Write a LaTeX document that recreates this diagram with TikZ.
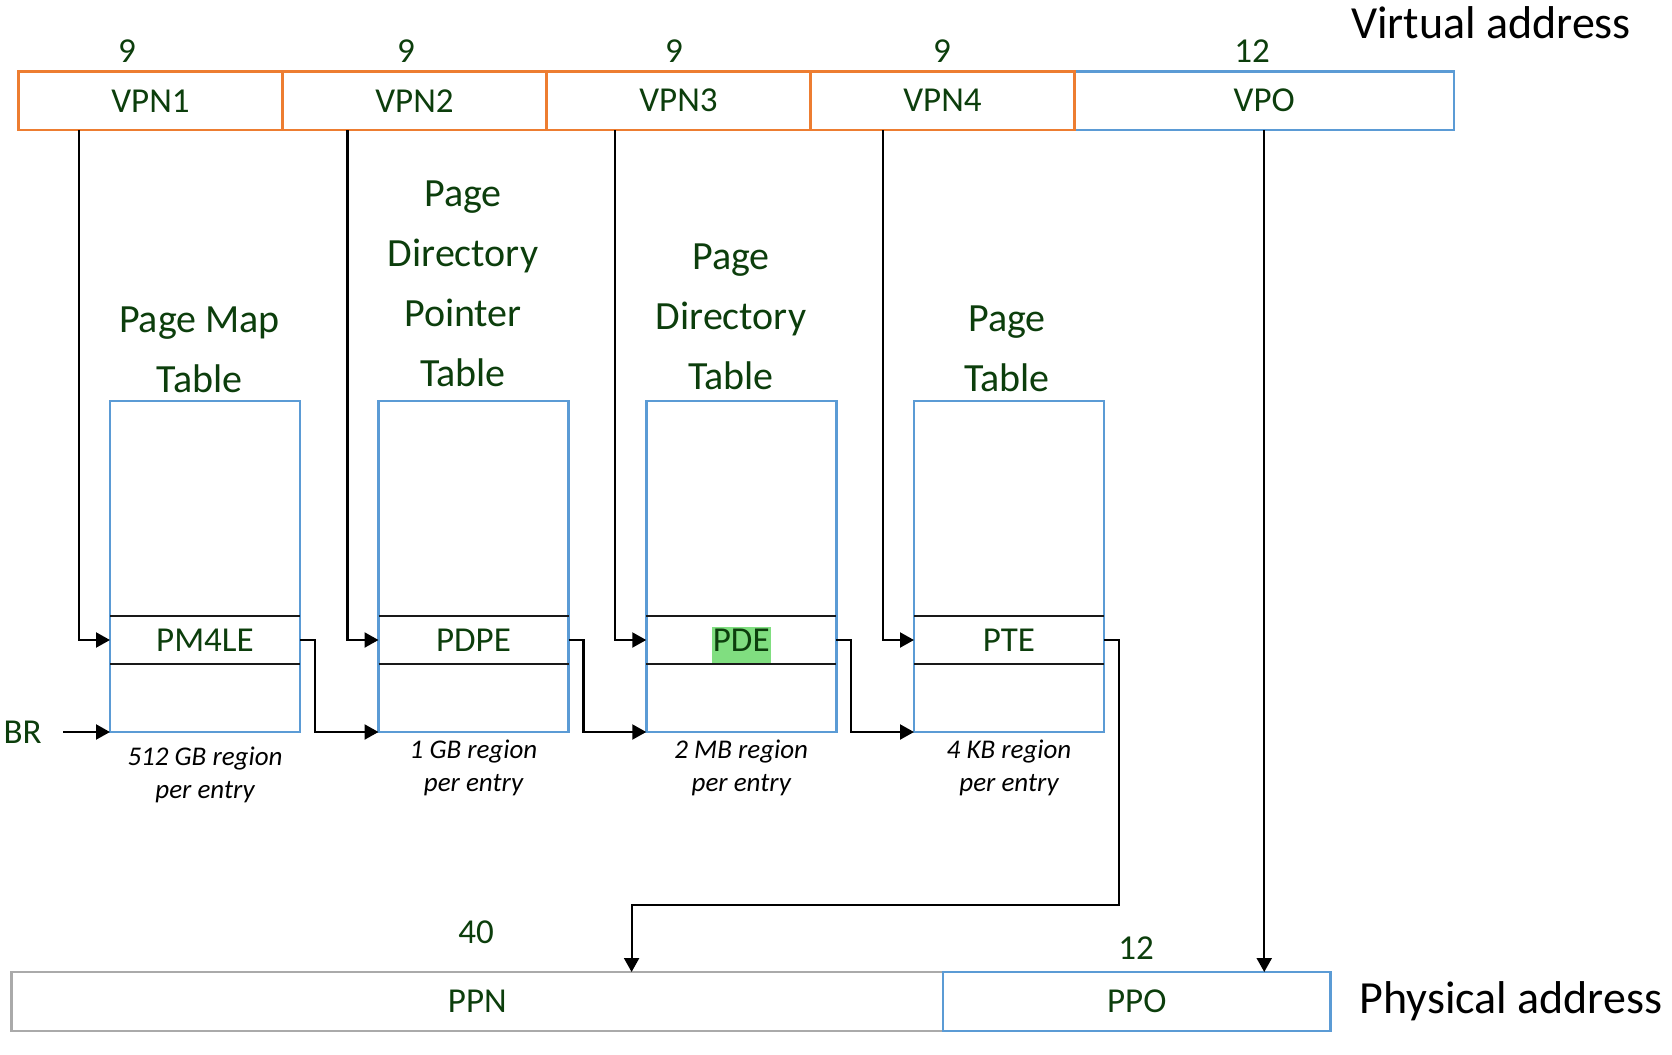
\documentclass[tikz,border=0pt]{standalone}
\usepackage{fontspec}
\setmainfont{Carlito}
\usetikzlibrary{positioning,arrows.meta,calc,backgrounds}

\definecolor{darkgreen}{RGB}{12,62,12}
\definecolor{vpnorange}{RGB}{237,125,49}
\definecolor{boxblue}{RGB}{91,155,213}
\definecolor{ppngray}{RGB}{170,170,170}
\definecolor{hilite}{RGB}{128,222,128}

\tikzset{
  field/.style={draw, line width=1.3pt, minimum height=29.25pt, inner sep=0pt, outer sep=0pt, text=darkgreen, font=\fontsize{17.5}{21}\selectfont},
  vpnfield/.style={field, draw=vpnorange, minimum width=132pt},
  bits/.style={inner sep=0pt, text=darkgreen, font=\fontsize{17.5}{21}\selectfont},
  tablebox/.style={draw=boxblue, line width=1.3pt, minimum width=95pt, minimum height=165.5pt, inner sep=0pt, outer sep=0pt},
  entry/.style={minimum width=95pt, minimum height=24pt, inner sep=0pt, outer sep=0pt, text=darkgreen, font=\fontsize{17.5}{21}\selectfont},
  rowline/.style={line width=1.4pt, black!90},
  tabletitle/.style={align=center, inner sep=0pt, anchor=south, text=darkgreen, font=\fontsize{20}{30}\selectfont},
  regionnote/.style={align=center, inner sep=0pt, anchor=north, font=\itshape\fontsize{13.5}{16.5}\selectfont},
  addrname/.style={inner sep=0pt, anchor=base, font=\fontsize{23}{28}\selectfont},
  link/.style={line width=1.1pt, -{Triangle[length=7pt,width=7.5pt]}},
}

\begin{document}
\begin{tikzpicture}[x=0.5pt, y=-0.5pt]
\useasboundingbox (0,0) rectangle (1672,1055);

% virtual address
\node[field, draw=boxblue, minimum width=189.75pt] (vpo) at (1264.25,100.75) {VPO};
\node[vpnfield, left=0pt of vpo] (vpn4) {VPN4};
\node[vpnfield, left=0pt of vpn4] (vpn3) {VPN3};
\node[vpnfield, left=0pt of vpn3] (vpn2) {VPN2};
\node[vpnfield, left=0pt of vpn2] (vpn1) {VPN1};
\foreach \n/\x/\b in {1/127/9, 2/406/9, 3/674/9, 4/942/9, 5/1252/12}
  \node[bits] (bits\n) at (\x,51) {\b};
\node[addrname] (vaddr) at (1491,38) {Virtual address};

% the four tables
\foreach \n/\x/\e in {pml4/205/PM4LE, pdpt/473.5/PDPE, pd/741.25/PDE, pt/1009/PTE} {
  \node[tablebox] (\n) at (\x,566.5) {};
  \node[entry] (\n-ent) at (\x,640) {\e};
  \draw[rowline] (\n-ent.north west) -- (\n-ent.north east) (\n-ent.south west) -- (\n-ent.south east);
}
\begin{scope}[on background layer]
  \fill[hilite] ($(pd-ent.center)+(-29.5,-13)$) rectangle ($(pd-ent.center)+(29.5,23)$);
\end{scope}

\node[tabletitle] (pml4title) at (199.5,393) {Page Map\\Table};
\node[tabletitle] (pdpttitle) at (463,387.5) {Page\\Directory\\Pointer\\Table};
\node[tabletitle] (pdtitle) at (731,390) {Page\\Directory\\Table};
\node[tabletitle] (pttitle) at (1007,392.5) {Page\\Table};

\node[regionnote, below=7.3pt of pml4.south] (pml4note) {512 GB region\\per entry};
\node[regionnote, below=4pt of pdpt.south] (pdptnote) {1 GB region\\per entry};
\node[regionnote, below=4pt of pd.south] (pdnote) {2 MB region\\per entry};
\node[regionnote, below=4pt of pt.south] (ptnote) {4 KB region\\per entry};

% walk
\foreach \v/\n in {vpn1/pml4, vpn2/pdpt, vpn3/pd, vpn4/pt} {
  \coordinate (\n-in) at ($(\n-ent.west)+(-31,0)$);
  \draw[link] (\v.south -| \n-in) |- (\n-ent.west);
}
\foreach \a/\b in {pml4/pdpt, pdpt/pd, pd/pt}
  \draw[link] (\a-ent.east) -- ++(15,0) |- (\b.south west);

\coordinate (brout) at ($(pml4.south west)+(-47,0)$);
\node[bits, left=10.5pt of brout] (br) {BR};
\draw[link] (brout) -- (pml4.south west);

% physical address
\node[field, draw=ppngray, minimum width=465.65pt, minimum height=29.5pt] (ppn) at (477.35,1001.5) {PPN};
\node[field, draw=boxblue, minimum width=193.75pt, minimum height=29.5pt, right=0pt of ppn] (ppo) {PPO};
\node[bits] (ppnbits) at (476,932.5) {40};
\node[bits] (ppobits) at (1136,948) {12};
\node[addrname] (paddr) at (1511,1013) {Physical address};

\coordinate (ppnturn) at (631.6,905);
\draw[link] (pt-ent.east) -- ++(15,0) |- (ppnturn) -- (ppnturn |- ppn.north);
\draw[link] (vpo.south) -- (vpo.south |- ppo.north);

\end{tikzpicture}
\end{document}
